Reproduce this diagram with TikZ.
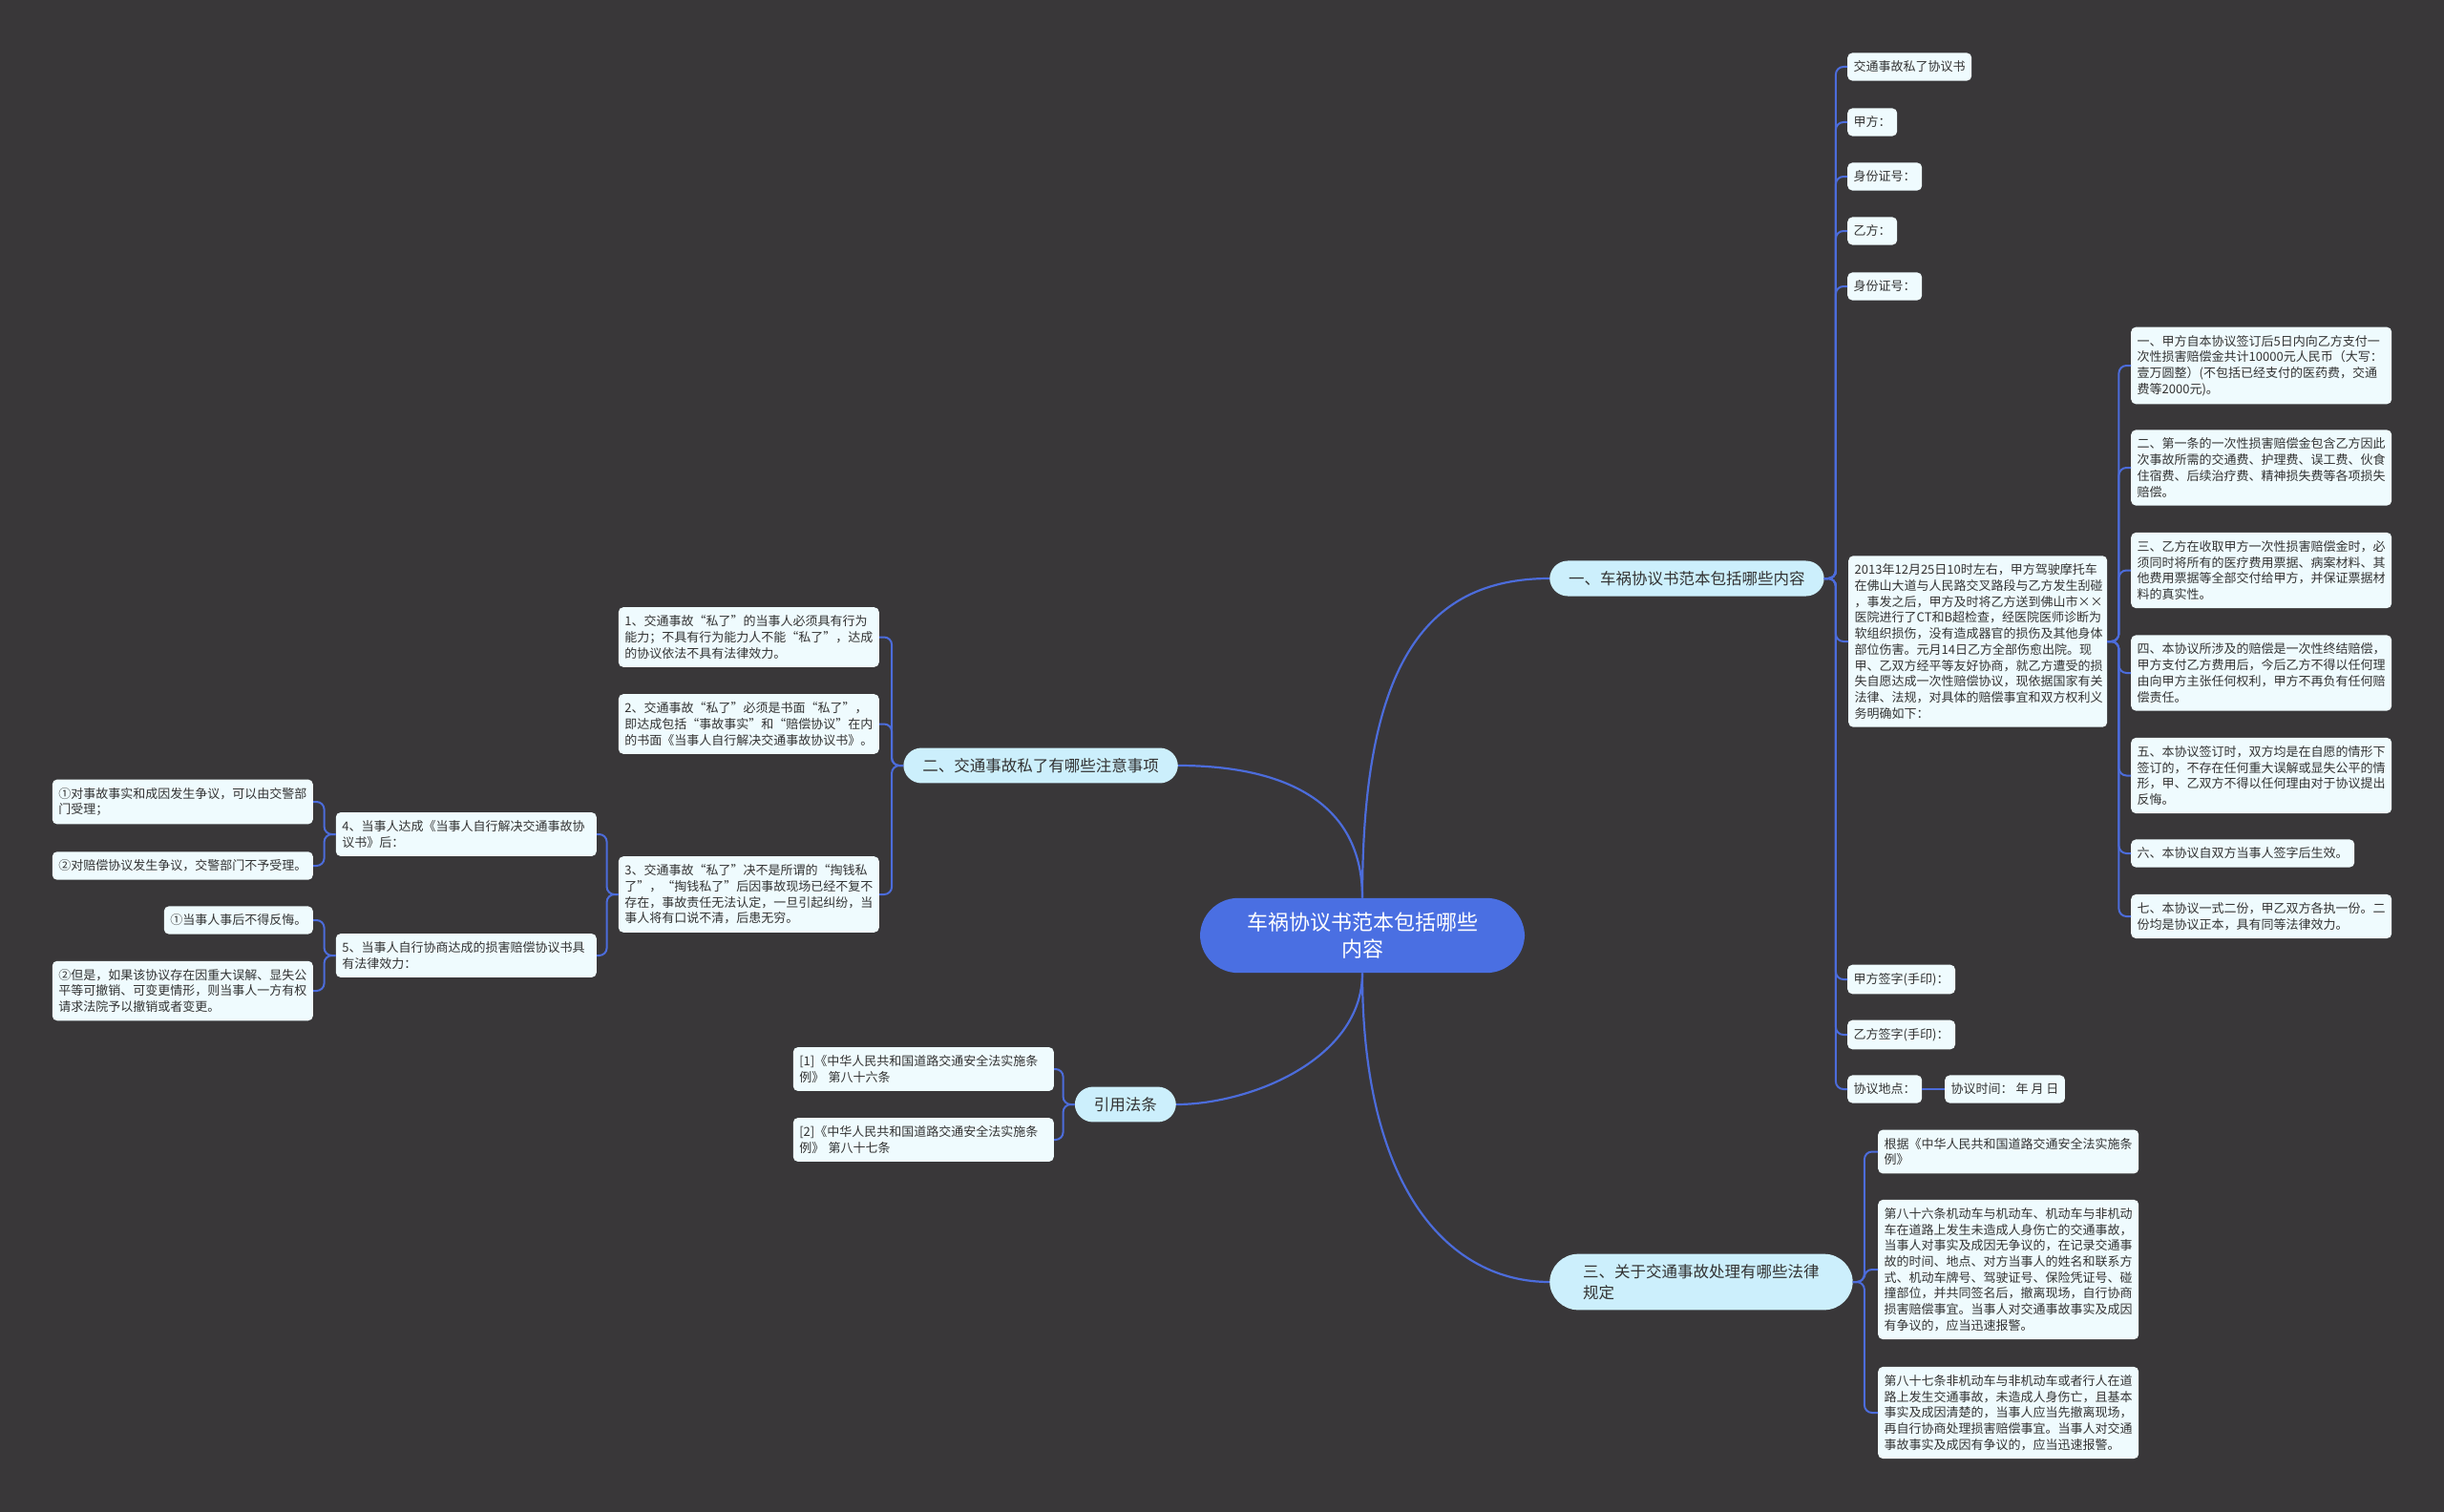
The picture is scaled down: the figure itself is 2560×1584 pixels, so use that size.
\documentclass[tikz,border=0pt]{standalone}
\usepackage{fontspec}
\setmainfont{Noto Sans CJK SC}
\usepackage{tikz}
\usetikzlibrary{calc}

\definecolor{bgdark}{HTML}{393739}
\definecolor{linkblue}{HTML}{4C6CDB}
\definecolor{rootblue}{HTML}{4A6FE2}
\definecolor{branchbg}{HTML}{CCEFFC}
\definecolor{leafbg}{HTML}{EFFBFE}
\definecolor{ink}{HTML}{333333}

\begin{document}
\begin{tikzpicture}[x=1pt, y=-1pt,
    root/.style={fill=rootblue, text=white, rounded corners=40pt, align=center,
      text width=250pt, inner xsep=45pt, inner ysep=15pt,
      font=\fontsize{22pt}{28pt}\selectfont},
    branch/.style={fill=branchbg, text=ink, rounded corners=19pt,
      inner xsep=20pt, inner ysep=10.8pt, font=\fontsize{16.5pt}{21.7pt}\selectfont},
    leaf/.style={fill=leafbg, text=ink, rounded corners=5pt, align=left,
      inner xsep=6.5pt, inner ysep=8.5pt, font=\fontsize{13pt}{16.7pt}\selectfont},
    wide/.style={leaf, text width=260pt},
    link/.style={draw=linkblue, line width=2pt, rounded corners=8pt},
    trunk/.style={draw=linkblue, line width=2.2pt}]
    \fill[bgdark] (0,0) rectangle (2560,1584);
    \useasboundingbox (0,0) rectangle (2560,1584);
    % Centralt emne
    \node[root] (root) at (1427,980) {车祸协议书范本包括哪些\\内容};
    % Hovedgrene
    \node[branch, anchor=west] (agree) at (1623,606) {一、车祸协议书范本包括哪些内容};
    \node[branch, anchor=east] (caution) at (1234,802) {二、交通事故私了有哪些注意事项};
    \node[branch, anchor=east] (cite) at (1232,1157) {引用法条};
    \node[branch, anchor=west, align=left, inner xsep=35pt, rounded corners=30pt] (law) at (1623,1343)
      {三、关于交通事故处理有哪些法律\\规定};
    % Protokollens felter
    \node[leaf, anchor=west] (title) at (1935,70) {交通事故私了协议书};
    \node[leaf, anchor=west] (partyA) at (1935,128) {甲方：};
    \node[leaf, anchor=west] (idA) at (1935,185) {身份证号：};
    \node[leaf, anchor=west] (partyB) at (1935,242) {乙方：};
    \node[leaf, anchor=west] (idB) at (1935,300) {身份证号：};
    \node[wide, anchor=west, text width=258pt] (facts) at (1936,672)
      {2013年12月25日10时左右，甲方驾驶摩托车\\在佛山大道与人民路交叉路段与乙方发生刮碰\\，事发之后，甲方及时将乙方送到佛山市××\\医院进行了CT和B超检查，经医院医师诊断为\\软组织损伤，没有造成器官的损伤及其他身体\\部位伤害。元月14日乙方全部伤愈出院。现\\甲、乙双方经平等友好协商，就乙方遭受的损\\失自愿达成一次性赔偿协议，现依据国家有关\\法律、法规，对具体的赔偿事宜和双方权利义\\务明确如下：};
    \node[leaf, anchor=west] (signA) at (1935,1026) {甲方签字(手印)：};
    \node[leaf, anchor=west] (signB) at (1935,1084) {乙方签字(手印)：};
    \node[leaf, anchor=west] (place) at (1935,1141) {协议地点：};
    \node[leaf, anchor=west] (date) at (2037,1141) {协议时间：~年~月~日};
    % Aftalens punkter
    \node[wide, anchor=west] (cl1) at (2232,383)
      {一、甲方自本协议签订后5日内向乙方支付一\\次性损害赔偿金共计10000元人民币（大写：\\壹万圆整）(不包括已经支付的医药费，交通\\费等2000元)。};
    \node[wide, anchor=west] (cl2) at (2232,490)
      {二、第一条的一次性损害赔偿金包含乙方因此\\次事故所需的交通费、护理费、误工费、伙食\\住宿费、后续治疗费、精神损失费等各项损失\\赔偿。};
    \node[wide, anchor=west] (cl3) at (2232,597.5)
      {三、乙方在收取甲方一次性损害赔偿金时，必\\须同时将所有的医疗费用票据、病案材料、其\\他费用票据等全部交付给甲方，并保证票据材\\料的真实性。};
    \node[wide, anchor=west] (cl4) at (2232,705)
      {四、本协议所涉及的赔偿是一次性终结赔偿，\\甲方支付乙方费用后，今后乙方不得以任何理\\由向甲方主张任何权利，甲方不再负有任何赔\\偿责任。};
    \node[wide, anchor=west] (cl5) at (2232,812.5)
      {五、本协议签订时，双方均是在自愿的情形下\\签订的，不存在任何重大误解或显失公平的情\\形，甲、乙双方不得以任何理由对于协议提出\\反悔。};
    \node[leaf, anchor=west] (cl6) at (2232,894) {六、本协议自双方当事人签字后生效。};
    \node[wide, anchor=west] (cl7) at (2232,960)
      {七、本协议一式二份，甲乙双方各执一份。二\\份均是协议正本，具有同等法律效力。};
    % Lovbestemmelser
    \node[wide, anchor=west] (rule1) at (1967,1206.5)
      {根据《中华人民共和国道路交通安全法实施条\\例》};
    \node[wide, anchor=west] (rule2) at (1967,1330)
      {第八十六条机动车与机动车、机动车与非机动\\车在道路上发生未造成人身伤亡的交通事故，\\当事人对事实及成因无争议的，在记录交通事\\故的时间、地点、对方当事人的姓名和联系方\\式、机动车牌号、驾驶证号、保险凭证号、碰\\撞部位，并共同签名后，撤离现场，自行协商\\损害赔偿事宜。当事人对交通事故事实及成因\\有争议的，应当迅速报警。};
    \node[wide, anchor=west] (rule3) at (1967,1480)
      {第八十七条非机动车与非机动车或者行人在道\\路上发生交通事故，未造成人身伤亡，且基本\\事实及成因清楚的，当事人应当先撤离现场，\\再自行协商处理损害赔偿事宜。当事人对交通\\事故事实及成因有争议的，应当迅速报警。};
    % Forbehold ved privat forlig
    \node[wide, anchor=east] (tip1) at (921,667.5)
      {1、交通事故“私了”的当事人必须具有行为\\能力；不具有行为能力人不能“私了”，达成\\的协议依法不具有法律效力。};
    \node[wide, anchor=east] (tip2) at (921,758.5)
      {2、交通事故“私了”必须是书面“私了”，\\即达成包括“事故事实”和“赔偿协议”在内\\的书面《当事人自行解决交通事故协议书》。};
    \node[wide, anchor=east] (tip3) at (921,937)
      {3、交通事故“私了”决不是所谓的“掏钱私\\了”，“掏钱私了”后因事故现场已经不复不\\存在，事故责任无法认定，一旦引起纠纷，当\\事人将有口说不清，后患无穷。};
    \node[wide, anchor=east] (tip4) at (625,874)
      {4、当事人达成《当事人自行解决交通事故协\\议书》后：};
    \node[wide, anchor=east] (tip5) at (625,1001)
      {5、当事人自行协商达成的损害赔偿协议书具\\有法律效力：};
    \node[wide, anchor=east] (sub1) at (328,840)
      {①对事故事实和成因发生争议，可以由交警部\\门受理；};
    \node[wide, anchor=east] (sub2) at (328,907) {②对赔偿协议发生争议，交警部门不予受理。};
    \node[leaf, anchor=east] (sub3) at (328,964) {①当事人事后不得反悔。};
    \node[wide, anchor=east] (sub4) at (328,1038)
      {②但是，如果该协议存在因重大误解、显失公\\平等可撤销、可变更情形，则当事人一方有权\\请求法院予以撤销或者变更。};
    % Henvisninger
    \node[wide, anchor=east] (ref1) at (1104,1120)
      {[1]《中华人民共和国道路交通安全法实施条\\例》 第八十六条};
    \node[wide, anchor=east] (ref2) at (1104,1194)
      {[2]《中华人民共和国道路交通安全法实施条\\例》 第八十七条};
    % Forbindelser fra centrum
    \draw[trunk] (root.north) .. controls ($(root.north)+(0,-240)$) and ($(agree.west)+(-133,0)$) .. (agree.west);
    \draw[trunk] (root.north) .. controls ($(root.north)+(0,-110)$) and ($(caution.east)+(96,0)$) .. (caution.east);
    \draw[trunk] (root.south) .. controls ($(root.south)+(0,90)$) and ($(cite.east)+(78,0)$) .. (cite.east);
    \draw[trunk] (root.south) .. controls ($(root.south)+(0,230)$) and ($(law.west)+(-103,0)$) .. (law.west);
    % Forgreninger
    \foreach \kid in {title,partyA,idA,partyB,idB,facts,signA,signB,place}
      \draw[link] (agree.east) -- ++(12,0) |- (\kid.west);
    \draw[link] (place.east) -- (date.west);
    \foreach \kid in {cl1,cl2,cl3,cl4,cl5,cl6,cl7}
      \draw[link] (facts.east) -- ++(12,0) |- (\kid.west);
    \foreach \kid in {rule1,rule2,rule3}
      \draw[link] (law.east) -- ++(12,0) |- (\kid.west);
    \foreach \kid in {tip1,tip2,tip3}
      \draw[link] (caution.west) -- ++(-12,0) |- (\kid.east);
    \foreach \kid in {tip4,tip5}
      \draw[link] (tip3.west) -- ++(-12,0) |- (\kid.east);
    \foreach \kid in {sub1,sub2}
      \draw[link] (tip4.west) -- ++(-12,0) |- (\kid.east);
    \foreach \kid in {sub3,sub4}
      \draw[link] (tip5.west) -- ++(-12,0) |- (\kid.east);
    \foreach \kid in {ref1,ref2}
      \draw[link] (cite.west) -- ++(-12,0) |- (\kid.east);
  \end{tikzpicture}
\end{document}
